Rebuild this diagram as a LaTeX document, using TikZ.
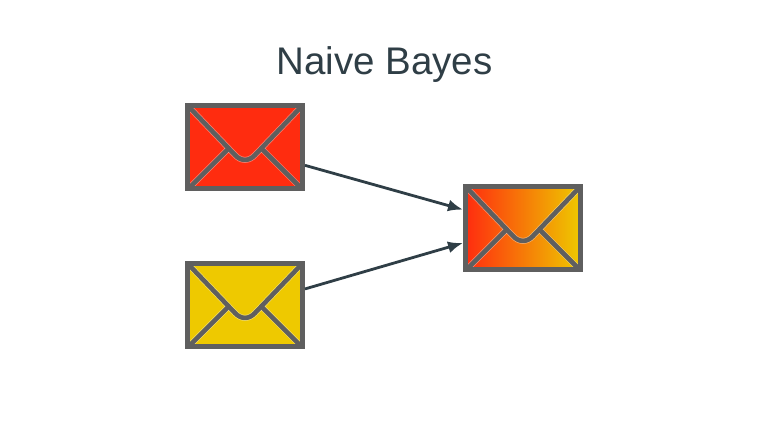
\documentclass[tikz,border=0pt]{standalone}
\usepackage{fontspec}
\setmainfont{Liberation Sans}
\usetikzlibrary{arrows.meta}
\definecolor{inkc}{HTML}{2F3E46}
\definecolor{greyc}{HTML}{5F5F5F}
\definecolor{redc}{HTML}{FF2C0F}
\definecolor{yelc}{HTML}{EEC900}
\tikzset{
  x=1pt,y=-1pt,
  envline/.style={draw=greyc,line width=4.6pt,line cap=round,line join=round},
  envglow/.style={draw=white,draw opacity=0.4,line width=6pt,line cap=round,line join=round},
  envelope/.style={rectangle,draw=greyc,line width=5pt,minimum width=115pt,minimum height=83pt,inner sep=0pt,outer sep=2.5pt,
    path picture={
      \begin{scope}[shift={(path picture bounding box.center)}]
        \foreach \kind in {envglow,envline}{
          \draw[\kind] (-55,-39) -- (-10,8) .. controls (-4,14.5) and (4,14.5) .. (10,8) -- (55,-39);
          \draw[\kind] (-55,40) -- (-18,3);
          \draw[\kind] (55,40) -- (18,3);
        }
      \end{scope}
    }},
  link/.style={draw=inkc,line width=2.8pt,-{Latex[length=15pt,width=12pt]}},
  heading/.style={text=inkc,font=\fontsize{38.5pt}{44pt}\selectfont,inner sep=0pt}
}
\begin{document}
\begin{tikzpicture}
\useasboundingbox (0,0) rectangle (768,432);
\node[heading] (title) at (384.5,64.5) {Naive Bayes};
\node[envelope,fill=redc] (spam) at (245,147) {};
\node[envelope,fill=yelc] (ham) at (245,305) {};
\node[envelope,left color=redc,right color=yelc] (mix) at (523,228) {};
\draw[link] (spam.-17) -- (mix.163);
\draw[link] (ham.15.8) -- (mix.194.9);
\end{tikzpicture}
\end{document}
